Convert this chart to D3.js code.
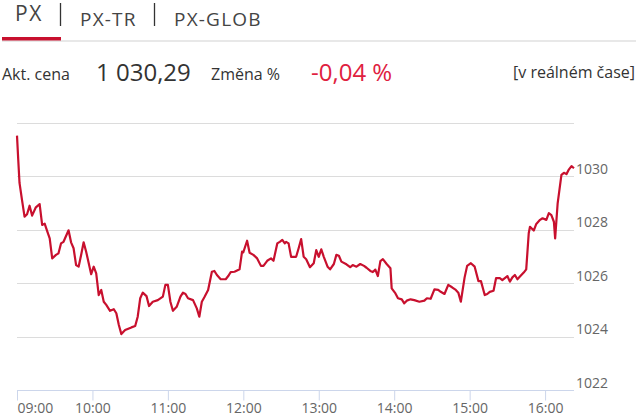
<!DOCTYPE html>
<html>
<head>
<meta charset="utf-8">
<script src="https://cdn.jsdelivr.net/npm/d3@7"></script>
<style>
  body { margin: 0; background: #fff; }
  svg { display: block; font-family: "Open Sans", sans-serif; }
</style>
</head>
<body>
<div id="chart"></div>
<script>
// Tabs and header values
const tabs = ["PX", "PX-TR", "PX-GLOB"];
const priceLabel = "Akt. cena";
const priceText = "1 030,29";
const changeLabel = "Změna %";
const changeText = "-0,04 %";
const liveText = "[v reálném čase]";

// Intraday PX index (time, value)
const times = [
  "09:00","09:01","09:02","09:04","09:06","09:08","09:10","09:12","09:15","09:18",
  "09:20","09:22","09:24","09:26","09:28","09:31","09:33","09:35","09:37","09:41",
  "09:43","09:45","09:47","09:49","09:51","09:53","09:55","09:59","10:01","10:03",
  "10:05","10:07","10:09","10:11","10:14","10:17","10:19","10:21","10:23","10:26",
  "10:28","10:31","10:34","10:36","10:38","10:40","10:43","10:45","10:48","10:52",
  "10:56","10:58","11:00","11:02","11:04","11:07","11:10","11:12","11:14","11:16",
  "11:20","11:23","11:25","11:27","11:29","11:32","11:35","11:37","11:39","11:42",
  "11:46","11:48","11:50","11:53","11:57","11:59","12:00","12:03","12:05","12:08",
  "12:11","12:14","12:16","12:19","12:22","12:24","12:27","12:29","12:31","12:33",
  "12:34","12:36","12:38","12:42","12:44","12:46","12:48","12:50","12:53","12:56",
  "12:58","13:00","13:02","13:04","13:07","13:09","13:12","13:14","13:16","13:18",
  "13:22","13:25","13:27","13:30","13:33","13:36","13:38","13:41","13:43","13:45",
  "13:47","13:49","13:51","13:54","13:57","13:58","14:01","14:03","14:06","14:08",
  "14:10","14:13","14:16","14:20","14:24","14:26","14:29","14:32","14:35","14:37",
  "14:40","14:43","14:46","14:49","14:51","14:53","14:56","14:58","15:01","15:04",
  "15:07","15:09","15:12","15:14","15:16","15:19","15:21","15:24","15:26","15:30",
  "15:32","15:34","15:36","15:38","15:40","15:43","15:45","15:47","15:48","15:51",
  "15:53","15:56","15:58","16:01","16:03","16:05","16:07","16:08","16:10","16:13",
  "16:15","16:17","16:19","16:21","16:23"
];
const values = [
  1031.51,1030.60,1029.74,1029.10,1028.48,1028.57,1028.89,1028.52,1028.83,1028.95,
  1028.17,1028.22,1027.94,1027.67,1026.92,1027.05,1027.11,1027.48,1027.54,1027.97,
  1027.52,1027.30,1026.67,1026.61,1027.05,1027.52,1027.17,1026.33,1026.61,1026.36,
  1025.55,1025.74,1025.30,1025.18,1024.96,1025.02,1024.87,1024.43,1024.09,1024.24,
  1024.28,1024.34,1024.39,1024.74,1025.43,1025.64,1025.51,1025.14,1025.30,1025.36,
  1025.49,1025.93,1025.93,1025.30,1024.96,1025.11,1025.49,1025.64,1025.59,1025.43,
  1025.36,1025.05,1024.74,1025.30,1025.47,1025.74,1026.42,1026.45,1026.30,1026.14,
  1026.14,1026.26,1026.41,1026.42,1026.51,1027.17,1027.15,1027.58,1027.13,1027.05,
  1026.92,1026.64,1026.64,1026.83,1026.92,1026.83,1027.48,1027.54,1027.61,1027.48,
  1027.54,1027.48,1026.98,1026.98,1027.30,1027.64,1026.98,1026.89,1026.59,1026.74,
  1027.23,1026.98,1027.26,1026.98,1026.61,1026.51,1026.71,1027.05,1027.02,1026.80,
  1026.70,1026.59,1026.67,1026.61,1026.71,1026.64,1026.57,1026.45,1026.41,1026.50,
  1026.26,1026.82,1026.89,1026.71,1026.55,1025.80,1025.61,1025.43,1025.39,1025.24,
  1025.34,1025.39,1025.36,1025.30,1025.34,1025.43,1025.41,1025.76,1025.74,1025.67,
  1025.59,1025.93,1025.84,1025.74,1025.64,1025.30,1026.21,1026.64,1026.74,1026.61,
  1026.07,1026.07,1025.55,1025.59,1025.67,1025.71,1026.18,1026.18,1026.11,1026.26,
  1026.05,1026.21,1026.30,1026.14,1026.24,1026.39,1026.51,1027.86,1028.10,1027.96,
  1028.21,1028.36,1028.42,1028.36,1028.61,1028.54,1028.29,1027.67,1028.98,1030.04,
  1030.12,1030.07,1030.25,1030.37,1030.29
];
const yTicks = [1022, 1024, 1026, 1028, 1030, 1032];
const timeStart = "09:00", timeEnd = "16:23";

const W = 640, H = 419;
const parse = d3.timeParse("%H:%M");
const data = times.map((t, i) => ({t: parse(t), v: values[i]}));

const svg = d3.select("#chart").append("svg")
    .attr("width", W)
    .attr("height", H);

// --- header tabs
svg.append("rect").attr("x", 2).attr("y", 40).attr("width", 634).attr("height", 2).attr("fill", "#e8e8e8");
svg.append("rect").attr("x", 2).attr("y", 37).attr("width", 59).attr("height", 3.5).attr("fill", "#c8102e");

svg.append("text").attr("x", 15).attr("y", 21)
    .attr("font-size", 21).attr("letter-spacing", 1.5).attr("fill", "#444")
    .text(tabs[0]);
svg.append("text").attr("x", 80).attr("y", 26)
    .attr("font-size", 19).attr("letter-spacing", 1.2).attr("fill", "#444")
    .text(tabs[1]);
svg.append("text").attr("x", 174).attr("y", 26)
    .attr("font-size", 19).attr("letter-spacing", 1.2).attr("fill", "#444")
    .text(tabs[2]);
[60.5, 154.5].forEach(x => {
  svg.append("line").attr("x1", x).attr("x2", x).attr("y1", 3).attr("y2", 26)
      .attr("stroke", "#333").attr("stroke-width", 1.3);
});

// --- price row
svg.append("text").attr("x", 2).attr("y", 80).attr("font-size", 16).attr("fill", "#333").text(priceLabel);
svg.append("text").attr("x", 96).attr("y", 81).attr("font-size", 24).attr("fill", "#333").text(priceText);
svg.append("text").attr("x", 211).attr("y", 80).attr("font-size", 16).attr("fill", "#333").text(changeLabel);
svg.append("text").attr("x", 311).attr("y", 81).attr("font-size", 24).attr("fill", "#e0213f").text(changeText);
svg.append("text").attr("x", 635).attr("y", 78).attr("font-size", 16).attr("fill", "#333")
    .attr("text-anchor", "end").text(liveText);

// --- chart
const x = d3.scaleTime()
    .domain([parse(timeStart), parse(timeEnd)])
    .range([17, 574]);
const y = d3.scaleLinear()
    .domain([1022, 1032])
    .range([390, 122.5]);

// grid lines
svg.append("g")
  .selectAll("line")
  .data(yTicks.slice(1))
  .enter().append("line")
    .attr("x1", 17).attr("x2", 574)
    .attr("y1", d => Math.round(y(d)) + 0.5)
    .attr("y2", d => Math.round(y(d)) + 0.5)
    .attr("stroke", "#dcdcdc");

// y labels on the right, above their grid line
svg.append("g")
  .selectAll("text")
  .data(yTicks.slice(0, 5))
  .enter().append("text")
    .attr("x", 576)
    .attr("y", d => y(d) - 2.5)
    .attr("font-size", 14)
    .attr("fill", "#666")
    .text(d => d);

// x axis
const xAxis = svg.append("g")
    .attr("transform", "translate(0,390.5)")
    .call(d3.axisBottom(x)
        .ticks(d3.timeHour.every(1))
        .tickFormat(d3.timeFormat("%H:%M"))
        .tickSize(10)
        .tickPadding(3));
xAxis.select(".domain").attr("stroke", "#ccd6eb").attr("d", "M17,0H574");
xAxis.selectAll(".tick line").attr("stroke", "#ccd6eb");
xAxis.selectAll(".tick text")
    .attr("font-family", "Open Sans, sans-serif")
    .attr("font-size", 14)
    .attr("fill", "#666")
    .attr("text-anchor", (d, i) => i === 0 ? "start" : "middle");

// price line
const line = d3.line()
    .x(d => x(d.t))
    .y(d => y(d.v));

svg.append("path")
    .datum(data)
    .attr("fill", "none")
    .attr("stroke", "#c8102e")
    .attr("stroke-width", 2.2)
    .attr("stroke-linejoin", "round")
    .attr("d", line);
</script>
</body>
</html>
